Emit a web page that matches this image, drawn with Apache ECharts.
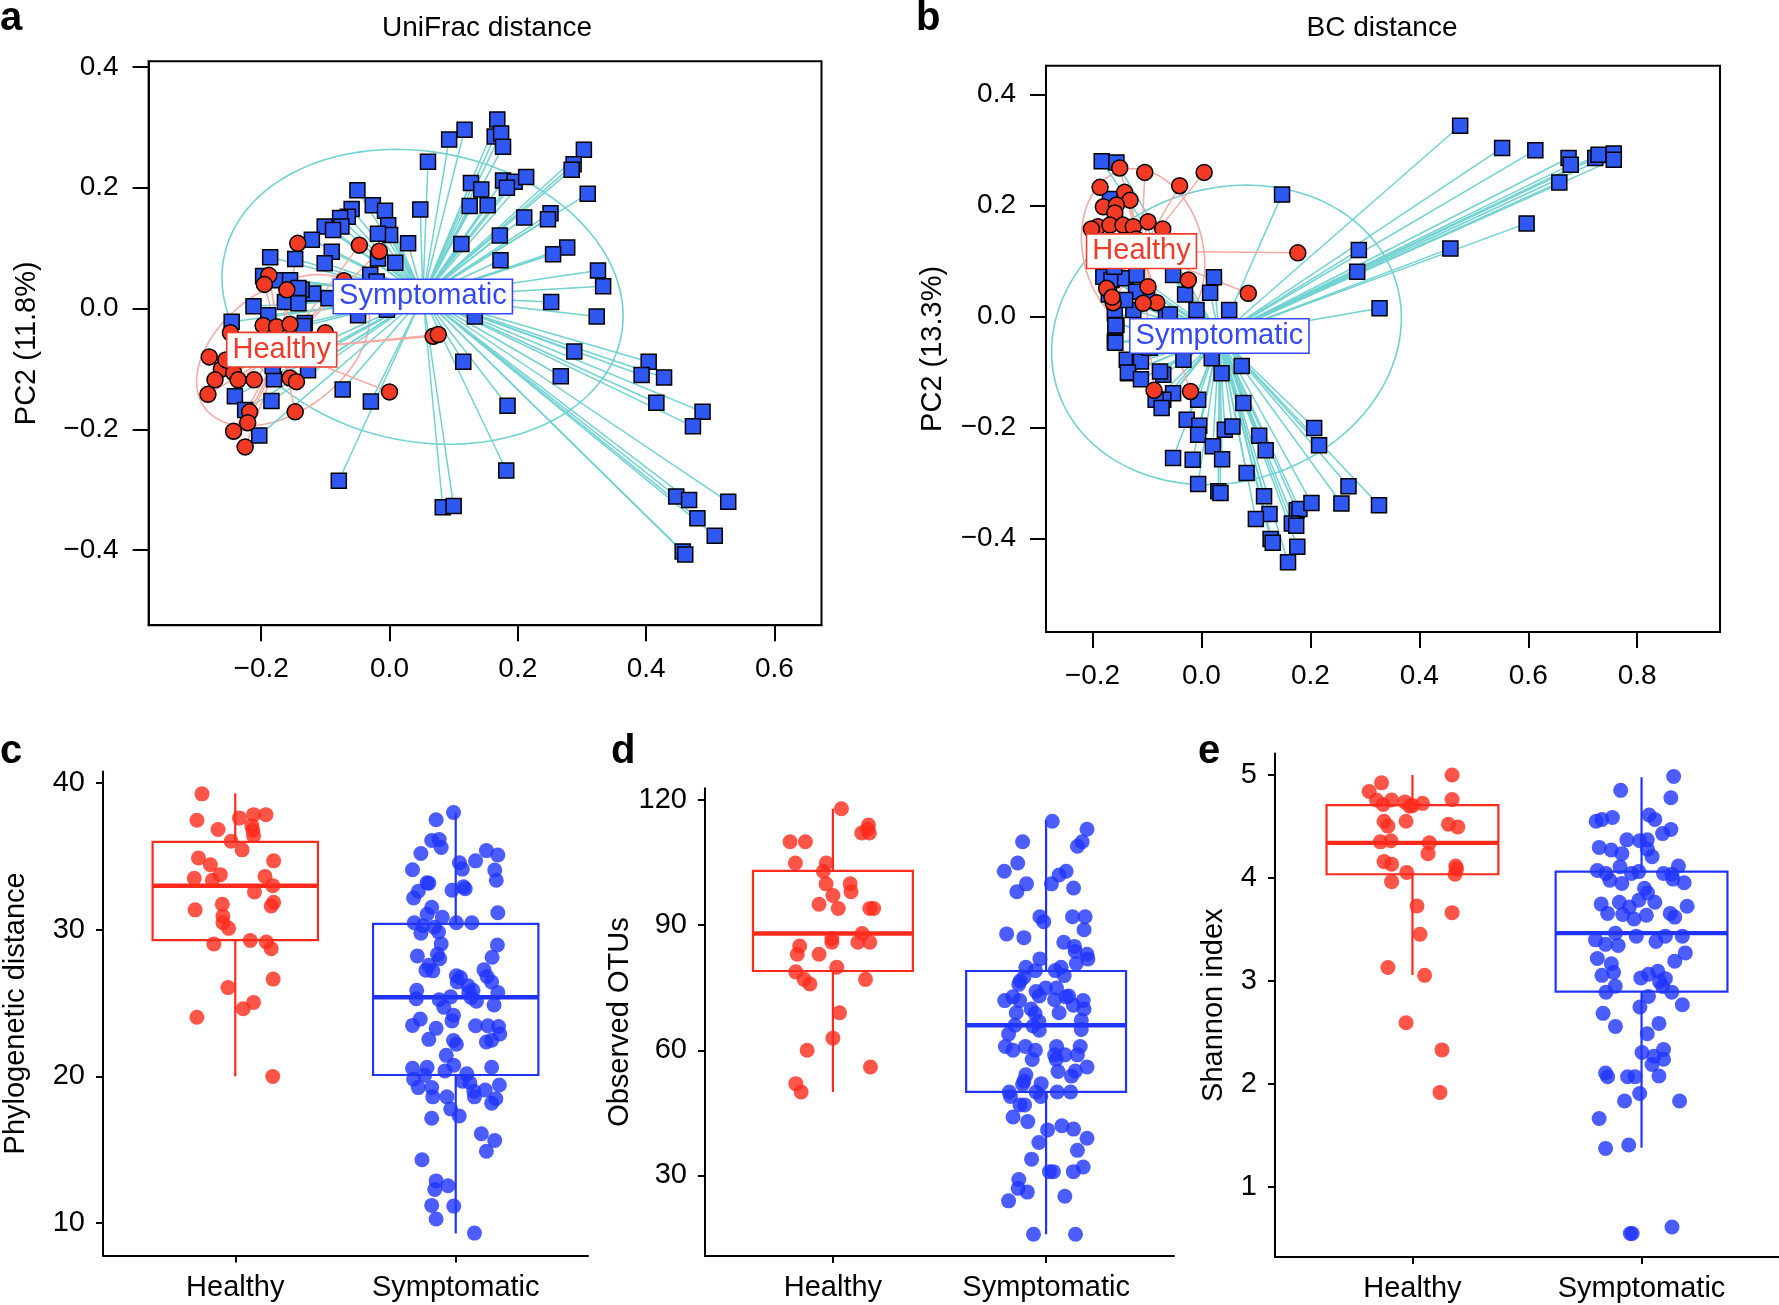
<!DOCTYPE html>
<html>
<head>
<meta charset="utf-8">
<script src="https://cdn.jsdelivr.net/npm/echarts@6/dist/echarts.min.js"></script>
<style>
  html, body { margin: 0; padding: 0; background: #fff; }
  #chart { width: 1779px; height: 1305px; }
</style>
</head>
<body>
<div id="chart"></div>
<script>
// ---- panel a: UniFrac PCoA ----
var healthyA = [
  [-0.143,0.108],[-0.047,0.105],[-0.016,0.095],[-0.188,0.055],[-0.195,0.040],[-0.160,0.031],[-0.071,0.046],
  [-0.248,-0.040],[-0.197,-0.028],[-0.176,-0.030],[-0.155,-0.026],[-0.100,-0.040],[-0.281,-0.080],[-0.262,-0.100],
  [-0.272,-0.118],[-0.243,-0.106],[-0.236,-0.118],[-0.211,-0.118],[-0.283,-0.142],[-0.155,-0.115],[-0.145,-0.121],
  [-0.218,-0.171],[-0.221,-0.189],[-0.147,-0.171],[-0.243,-0.203],[-0.225,-0.229],[0.000,-0.138],[0.068,-0.046],
  [0.076,-0.043],[-0.255,-0.085],[-0.215,-0.060]
];
var symptomaticA = [
  [0.168,0.313],[0.164,0.285],[0.174,0.290],[0.177,0.268],[0.117,0.296],[0.093,0.280],[0.060,0.243],[0.303,0.263],
  [0.287,0.239],[0.284,0.230],[0.309,0.190],[0.127,0.208],[0.143,0.197],[0.177,0.212],[0.195,0.210],[0.213,0.218],
  [0.183,0.200],[0.125,0.170],[0.153,0.171],[0.048,0.164],[0.210,0.151],[0.251,0.158],[0.247,0.148],[0.172,0.121],
  [0.112,0.107],[0.173,0.080],[0.277,0.101],[0.255,0.090],[0.325,0.063],[0.333,0.037],[0.252,0.011],[0.323,-0.013],
  [0.133,-0.013],[0.288,-0.071],[0.267,-0.112],[0.115,-0.088],[0.404,-0.088],[0.393,-0.110],[0.428,-0.114],[0.416,-0.156],
  [0.488,-0.171],[0.473,-0.195],[0.184,-0.161],[0.182,-0.268],[-0.079,-0.285],[0.083,-0.329],[0.100,-0.327],[-0.029,-0.154],
  [-0.073,-0.134],[0.447,-0.311],[0.467,-0.317],[0.528,-0.320],[0.480,-0.347],[0.507,-0.376],[0.457,-0.402],[0.461,-0.407],
  [-0.203,-0.210],
  [-0.050,0.196],[-0.026,0.171],[-0.007,0.162],[-0.059,0.165],[-0.065,0.152],[-0.077,0.150],[-0.101,0.136],[-0.075,0.136],
  [-0.088,0.130],[-0.121,0.114],[-0.002,0.138],[0.001,0.122],[-0.018,0.124],[0.029,0.108],[-0.090,0.094],[-0.101,0.075],
  [-0.018,0.083],[0.009,0.076],[-0.030,0.056],[-0.020,0.045],[-0.119,0.025],[-0.137,0.031],[-0.095,0.017],[-0.049,-0.011],
  [-0.004,-0.002],[-0.132,-0.024],[-0.147,0.082],[-0.186,0.085],[-0.197,0.054],[-0.171,0.047],[-0.155,0.047],[-0.142,0.034],
  [-0.163,0.011],[-0.142,0.009],[-0.212,0.004],[-0.189,-0.011],[-0.134,-0.029],[-0.246,-0.022],[-0.127,-0.102],[-0.180,-0.117],
  [-0.241,-0.145],[-0.184,-0.153],[-0.225,-0.168],[-0.040,0.030],[0.020,0.020],[-0.030,0.005],[-0.182,-0.095]
];
var centroidA = { Healthy: [-0.168,-0.068], Symptomatic: [0.052,0.020] };
// [cx, cy, semi-axis a, semi-axis b, angle deg]
var ellipseA = { Healthy: [-0.166,-0.069,0.155,0.099,40], Symptomatic: [0.0515,0.0195,0.3165,0.239,-13.8] };

// ---- panel b: BC PCoA ----
var healthyB = [
  [-0.150,0.268],[-0.104,0.260],[-0.040,0.236],[0.005,0.260],[-0.186,0.233],[-0.141,0.224],[-0.131,0.210],[-0.180,0.198],
  [-0.156,0.201],[-0.159,0.187],[-0.190,0.162],[-0.202,0.158],[-0.168,0.165],[-0.144,0.165],[-0.125,0.162],[-0.098,0.171],
  [-0.071,0.158],[-0.024,0.066],[0.086,0.042],[-0.174,0.051],[-0.098,0.054],[-0.162,0.025],[-0.082,0.025],[-0.107,0.024],
  [-0.087,-0.133],[-0.020,-0.135],[0.177,0.115],[-0.150,0.130],[-0.120,0.140],[-0.170,0.120],[-0.164,0.035]
];
var symptomaticB = [
  [0.475,0.344],[0.552,0.304],[0.613,0.300],[0.674,0.286],[0.678,0.274],[0.723,0.286],[0.729,0.292],[0.757,0.294],
  [0.757,0.283],[0.657,0.242],[0.597,0.168],[0.457,0.123],[0.289,0.120],[0.286,0.081],[0.327,0.015],[0.148,0.220],
  [-0.183,0.280],[-0.156,0.278],[-0.168,0.212],
  [-0.180,0.072],[-0.165,0.066],[-0.140,0.069],[-0.119,0.075],[-0.052,0.075],[0.023,0.071],[0.016,0.043],[-0.009,0.012],
  [0.051,0.012],[-0.125,0.012],[-0.159,0.006],[-0.156,-0.015],[-0.159,-0.045],[-0.137,-0.078],[-0.113,-0.078],[-0.134,-0.102],
  [-0.065,0.003],[-0.070,-0.105],[-0.052,-0.138],[-0.070,-0.150],[-0.084,-0.150],[-0.073,-0.165],[0.074,-0.089],[0.037,-0.102],
  [0.019,-0.075],[-0.033,-0.078],[-0.076,-0.099],[0.077,-0.156],[-0.006,-0.150],[-0.027,-0.186],[-0.004,-0.197],[-0.006,-0.213],
  [0.043,-0.204],[0.057,-0.198],[0.021,-0.234],[0.038,-0.257],[-0.052,-0.255],[-0.016,-0.258],[0.106,-0.215],[0.118,-0.241],
  [0.083,-0.282],[-0.006,-0.302],[0.031,-0.315],[0.035,-0.318],[0.115,-0.324],[0.125,-0.356],[0.100,-0.365],[0.127,-0.401],
  [0.131,-0.408],[0.175,-0.349],[0.180,-0.347],[0.166,-0.373],[0.174,-0.377],[0.202,-0.336],[0.176,-0.415],[0.159,-0.443],
  [0.207,-0.201],[0.216,-0.232],[0.257,-0.337],[0.270,-0.306],[0.326,-0.340],
  [-0.100,0.030],[-0.120,0.045],[-0.140,0.030],[-0.170,0.040],[-0.160,0.090],[-0.090,-0.040],[-0.050,-0.030],[0.000,-0.050],
  [-0.030,0.040],[-0.058,0.004],[-0.111,-0.081],[-0.135,-0.101],[-0.158,-0.047],[-0.158,-0.016],[-0.095,-0.056],[-0.111,-0.113]
];
var centroidB = { Healthy: [-0.110,0.118], Symptomatic: [0.033,-0.035] };
var ellipseB = { Healthy: [-0.107,0.118,0.151,0.110,105], Symptomatic: [0.046,-0.033,0.3255,0.2646,16.5] };

var pcTicksA = [-0.2, 0.0, 0.2, 0.4, 0.6];
var pcTicksAy = [-0.4, -0.2, 0.0, 0.2, 0.4];
var pcTicksB = [-0.2, 0.0, 0.2, 0.4, 0.6, 0.8];
var pcTicksBy = [-0.4, -0.2, 0.0, 0.2, 0.4];

// ---- panels c-e: [jitter offset, value] ----
var groups = ['Healthy', 'Symptomatic'];
var pdHealthy = [
  [-0.151,39.27],[-0.174,37.47],[-0.078,36.84],[0.019,37.63],[0.083,37.85],[0.139,37.85],[0.075,37.10],[0.080,36.79],
  [0.083,36.41],[-0.019,36.04],[0.031,35.45],[-0.167,34.90],[-0.113,34.44],[0.174,34.70],[-0.186,33.51],[-0.104,33.38],
  [-0.068,33.76],[0.135,33.64],[0.170,33.01],[0.087,32.58],[-0.182,31.36],[-0.059,31.74],[-0.056,30.93],[-0.056,30.48],
  [-0.030,30.10],[0.174,31.87],[0.163,31.62],[-0.097,29.04],[0.068,29.27],[0.141,29.17],[0.163,28.71],[-0.033,26.06],
  [0.172,26.64],[0.036,24.62],[0.083,25.05],[-0.174,24.04],[0.170,20.00]
];
var pdSymptomatic = [
  [-0.010,38.00],[-0.089,37.50],[-0.109,36.09],[-0.075,36.16],[-0.066,35.61],[-0.158,35.20],[0.139,35.40],[0.191,35.10],
  [0.090,34.70],[0.017,34.57],[0.030,34.14],[-0.196,34.09],[0.177,34.07],[0.184,33.38],[-0.130,33.20],[-0.122,33.18],
  [0.035,32.93],[0.043,32.80],[-0.017,32.70],[-0.170,32.63],[-0.191,32.17],[-0.109,31.54],[0.191,31.16],[-0.061,30.86],
  [-0.130,31.06],[-0.188,30.48],[0.003,30.48],[0.073,30.48],[-0.149,30.28],[-0.097,30.18],[-0.158,29.77],[-0.078,29.85],
  [-0.066,29.04],[0.189,28.96],[-0.174,28.21],[-0.083,28.33],[-0.073,28.03],[0.165,28.13],[-0.122,27.58],[-0.104,27.20],
  [-0.135,27.25],[0.128,27.27],[0.142,26.82],[0.003,26.87],[0.021,26.74],[0.007,26.44],[0.163,26.44],[0.056,26.19],
  [0.078,25.88],[-0.177,25.88],[0.191,25.73],[-0.179,25.30],[-0.075,25.23],[-0.023,25.43],[0.094,25.13],[0.174,24.87],
  [-0.054,24.72],[-0.010,24.17],[-0.017,23.79],[-0.161,23.91],[-0.196,23.48],[0.090,23.46],[0.146,23.46],[0.194,23.41],
  [-0.089,23.28],[0.200,22.90],[-0.122,22.53],[0.163,22.47],[0.139,22.35],[-0.010,22.45],[0.003,22.20],[-0.043,21.44],
  [-0.009,20.76],[-0.196,20.56],[-0.130,20.63],[0.163,20.63],[-0.049,20.38],[-0.141,20.08],[0.050,20.18],[-0.191,19.82],
  [0.030,19.67],[0.064,19.57],[0.198,19.42],[-0.170,19.24],[-0.109,19.24],[0.134,19.07],[0.082,18.99],[-0.104,18.61],
  [-0.040,18.61],[0.085,18.61],[0.182,18.48],[0.163,18.18],[-0.023,17.78],[0.016,17.30],[-0.109,17.15],[0.116,16.09],
  [0.177,15.63],[0.139,14.90],[-0.153,14.32],[-0.089,12.88],[-0.095,12.30],[-0.035,12.55],[-0.109,11.21],[-0.009,11.16],
  [-0.089,10.28],[0.085,9.32],[0.059,25.73],[0.069,25.38]
];
// [x, lower whisker, Q1, median, Q3, upper whisker]
var pdBox = [[1, 20.0, 29.3, 33.0, 36.0, 39.3], [2, 9.3, 20.1, 25.4, 30.4, 38.0]];
var pdTicks = [10, 20, 30, 40];

var otuHealthy = [
  [0.040,117.9],[0.167,114.0],[0.162,113.0],[0.135,112.1],[0.171,112.1],[-0.201,110.0],[-0.129,110.0],[-0.176,104.9],
  [-0.031,104.9],[-0.045,102.9],[-0.032,99.9],[0.081,99.9],[0.085,98.0],[0.000,97.1],[-0.065,95.0],[0.025,94.0],
  [0.173,94.0],[0.191,94.0],[0.137,88.0],[-0.005,86.8],[-0.005,85.9],[0.117,85.9],[0.173,85.9],[-0.156,85.0],
  [-0.167,83.0],[-0.065,83.0],[0.018,79.9],[-0.174,78.8],[-0.135,77.0],[-0.108,75.9],[0.153,77.0],[0.031,69.0],
  [0.000,62.9],[-0.121,60.0],[0.176,56.0],[-0.174,52.0],[-0.149,50.0]
];
var otuSymptomatic = [
  [0.029,114.9],[0.192,113.0],[0.169,110.0],[0.147,108.9],[-0.110,110.0],[-0.133,104.9],[-0.196,102.9],[0.094,102.9],
  [0.061,102.0],[-0.092,99.9],[0.025,99.9],[0.129,98.9],[-0.137,98.0],[-0.029,92.0],[-0.011,90.8],[0.124,92.0],
  [0.183,92.0],[0.178,88.9],[-0.185,87.9],[-0.104,87.0],[0.083,85.9],[0.133,84.9],[0.137,83.7],[0.192,83.0],
  [0.196,81.9],[0.142,80.8],[-0.029,81.9],[-0.095,79.9],[-0.050,79.1],[0.043,79.1],[0.070,79.9],[0.085,77.9],
  [-0.122,76.6],[-0.104,77.5],[-0.128,75.8],[-0.002,74.9],[0.049,74.9],[-0.047,74.1],[-0.032,73.0],[0.094,72.8],
  [0.106,73.0],[-0.194,71.9],[-0.155,72.8],[-0.124,71.9],[0.040,72.1],[0.174,71.9],[0.128,70.8],[0.178,69.9],
  [-0.070,69.9],[-0.140,69.0],[0.061,69.0],[-0.052,68.8],[-0.146,66.0],[0.165,67.2],[0.165,65.0],[-0.034,66.9],
  [-0.061,65.8],[-0.176,63.9],[-0.032,64.8],[-0.191,60.9],[-0.155,60.0],[-0.097,60.9],[-0.050,60.0],[0.049,60.9],
  [0.160,60.9],[0.040,58.9],[0.088,58.9],[0.147,58.9],[-0.065,57.8],[0.047,57.8],[0.192,56.0],[0.056,54.9],
  [0.137,55.0],[0.119,53.8],[-0.095,54.1],[-0.104,52.6],[-0.023,52.0],[-0.110,51.8],[-0.173,50.0],[-0.047,50.0],
  [0.052,50.0],[0.115,50.0],[-0.025,48.9],[-0.167,48.9],[-0.122,46.9],[-0.101,46.9],[-0.155,44.0],[-0.086,42.9],
  [0.074,41.9],[0.007,40.9],[0.129,41.1],[0.192,38.9],[-0.034,37.9],[0.147,36.0],[-0.068,33.9],[0.174,32.0],
  [0.128,30.9],[0.016,30.9],[0.034,30.9],[-0.128,29.0],[-0.131,26.9],[-0.088,26.0],[0.088,25.0],[-0.176,23.9],
  [-0.059,15.9],[0.138,15.9]
];
var otuBox = [[1, 50.0, 79.0, 88.0, 103.0, 117.9], [2, 15.9, 50.0, 66.0, 79.0, 115.1]];
var otuTicks = [30, 60, 90, 120];

var shHealthy = [
  [0.173,5.000],[-0.135,4.924],[-0.189,4.840],[-0.157,4.757],[-0.091,4.757],[-0.128,4.714],[-0.033,4.739],[0.000,4.703],
  [0.044,4.725],[-0.012,4.696],[0.173,4.761],[-0.124,4.551],[-0.107,4.504],[-0.028,4.551],[0.157,4.522],[0.198,4.496],
  [-0.140,4.351],[-0.094,4.362],[0.074,4.341],[0.068,4.236],[-0.124,4.159],[-0.091,4.134],[0.189,4.116],[0.186,4.036],
  [0.193,4.087],[-0.025,4.054],[-0.091,3.964],[0.020,3.728],[0.173,3.663],[0.033,3.453],[-0.107,3.130],[0.053,3.054],
  [-0.028,2.594],[0.129,2.330],[0.120,1.917]
];
var shSymptomatic = [
  [0.140,4.986],[-0.091,4.851],[0.128,4.779],[0.033,4.612],[0.058,4.569],[-0.198,4.551],[-0.173,4.569],[-0.127,4.587],
  [0.128,4.471],[0.092,4.431],[-0.064,4.370],[-0.008,4.362],[0.025,4.370],[-0.185,4.297],[-0.132,4.272],[-0.086,4.236],
  [0.026,4.279],[0.046,4.207],[-0.193,4.072],[-0.155,4.043],[-0.138,3.978],[-0.094,4.109],[-0.086,3.946],[-0.044,4.043],
  [-0.012,4.062],[0.096,4.043],[0.132,4.036],[0.161,4.116],[0.137,3.989],[0.186,3.953],[0.013,3.899],[0.026,3.855],
  [-0.176,3.746],[-0.097,3.764],[-0.012,3.783],[0.058,3.764],[-0.053,3.717],[0.199,3.725],[-0.148,3.656],[-0.082,3.645],
  [-0.033,3.601],[0.021,3.638],[0.125,3.656],[0.145,3.620],[-0.114,3.464],[-0.023,3.435],[0.104,3.435],[0.178,3.435],
  [-0.201,3.399],[-0.157,3.355],[-0.102,3.344],[0.063,3.384],[-0.193,3.217],[-0.132,3.167],[0.145,3.192],[0.191,3.272],
  [-0.173,3.054],[-0.122,3.083],[-0.003,3.029],[0.030,3.065],[0.071,3.094],[0.104,3.022],[0.079,2.993],[0.092,2.946],
  [-0.115,2.949],[-0.155,2.891],[0.132,2.891],[0.030,2.848],[-0.007,2.746],[0.178,2.768],[-0.168,2.685],[-0.114,2.558],
  [0.076,2.587],[0.025,2.486],[0.002,2.304],[0.096,2.333],[0.054,2.268],[0.096,2.239],[0.046,2.188],[-0.157,2.105],
  [-0.148,2.069],[-0.061,2.069],[-0.028,2.069],[0.076,2.076],[-0.008,1.906],[-0.074,1.833],[0.166,1.833],[-0.185,1.663],
  [-0.157,1.373],[-0.056,1.406],[-0.049,0.547],[-0.041,0.547],[0.133,0.609]
];
var shBox = [[1, 3.058, 4.036, 4.341, 4.707, 5.0], [2, 1.38, 2.895, 3.464, 4.062, 4.978]];
var shTicks = [1, 2, 3, 4, 5];

// ---- style ----
var FONT = 'Liberation Sans, Arial, Helvetica, sans-serif';
var RED_PT = '#f23a24', BLUE_PT = '#2f58f2';
var RED_LBL = '#f03a2a', BLUE_LBL = '#3448f5';
var CYAN = '#72d2d2', PINK = '#f6aaa4';
var RED_BOX = '#ff2a1c', BLUE_BOX = '#1f35ff';

function fmtPc(v) {
  var r = Math.round(v * 10) / 10;
  return (r < 0 ? '\u2212' : '') + Math.abs(r).toFixed(1);
}

function pcAxis(gi, min, max, ticks, isY) {
  return {
    gridIndex: gi, type: 'value', min: min, max: max,
    axisLine: { show: true, onZero: false, lineStyle: { color: '#000', width: 2 } },
    axisTick: { show: true, inside: false, length: 16, customValues: ticks, lineStyle: { color: '#000', width: 2 } },
    axisLabel: { customValues: ticks, formatter: fmtPc, fontSize: 28, color: '#000', fontFamily: FONT, margin: isY ? 30 : 30 },
    splitLine: { show: false }
  };
}

function boxAxisY(gi, min, max, ticks, name, gap) {
  return {
    gridIndex: gi, type: 'value', min: min, max: max,
    name: name, nameLocation: 'middle', nameGap: gap,
    nameTextStyle: { fontSize: 29, color: '#000', fontFamily: FONT },
    axisLine: { show: true, onZero: false, lineStyle: { color: '#000', width: 2 } },
    axisTick: { show: true, inside: false, length: 7, customValues: ticks, lineStyle: { color: '#000', width: 2 } },
    axisLabel: { customValues: ticks, fontSize: 29, color: '#000', fontFamily: FONT, margin: 18 },
    splitLine: { show: false }
  };
}

function boxAxisX(gi) {
  return {
    gridIndex: gi, type: 'value', min: 0.4, max: 2.6,
    axisLine: { show: true, onZero: false, lineStyle: { color: '#000', width: 2 } },
    axisTick: { show: true, inside: false, length: 7, customValues: [1, 2], lineStyle: { color: '#000', width: 2 } },
    axisLabel: {
      customValues: [1, 2], fontSize: 29, color: '#000', fontFamily: FONT, margin: 18,
      formatter: function (v) { return groups[Math.round(v) - 1]; }
    },
    splitLine: { show: false }
  };
}

function ellipseSeries(gi, e, color) {
  return {
    type: 'custom', xAxisIndex: gi, yAxisIndex: gi, z: 2, silent: true,
    data: [e], encode: { x: 0, y: 1 },
    renderItem: function (params, api) {
      var cx = api.value(0), cy = api.value(1), a = api.value(2), b = api.value(3);
      var th = api.value(4) * Math.PI / 180;
      var pts = [];
      for (var i = 0; i <= 180; i++) {
        var t = 2 * Math.PI * i / 180;
        var dx = a * Math.cos(t), dy = b * Math.sin(t);
        pts.push(api.coord([cx + dx * Math.cos(th) - dy * Math.sin(th), cy + dx * Math.sin(th) + dy * Math.cos(th)]));
      }
      return { type: 'polyline', shape: { points: pts }, style: { fill: null, stroke: color, lineWidth: 1.6 } };
    }
  };
}

function spiderSeries(gi, pts, c, color) {
  return {
    type: 'lines', coordinateSystem: 'cartesian2d', xAxisIndex: gi, yAxisIndex: gi, z: 2, silent: true,
    lineStyle: { color: color, width: 1.5, opacity: 1 },
    data: pts.map(function (p) { return { coords: [p, c] }; })
  };
}

function pointSeries(gi, pts, shape, color, size) {
  return {
    type: 'scatter', xAxisIndex: gi, yAxisIndex: gi, z: 3, silent: true,
    symbol: shape, symbolSize: size, data: pts,
    itemStyle: { color: color, borderColor: '#000', borderWidth: 1.5, opacity: 1 }
  };
}

// group name drawn in a white box at the group centroid
function labelSeries(gi, c, name, color) {
  return {
    type: 'custom', xAxisIndex: gi, yAxisIndex: gi, z: 8, silent: true,
    data: [[c[0], c[1]]], encode: { x: 0, y: 1 },
    renderItem: function (params, api) {
      var p = api.coord([api.value(0), api.value(1)]);
      return {
        type: 'text', x: p[0], y: p[1], z2: 100,
        style: {
          text: name, fill: color, fontSize: 29, fontFamily: FONT,
          align: 'center', verticalAlign: 'middle',
          backgroundColor: '#fff', borderColor: color, borderWidth: 1.6,
          padding: [3, 5, 1, 5]
        }
      };
    }
  };
}

function boxSeries(gi, box, color) {
  return {
    type: 'custom', xAxisIndex: gi, yAxisIndex: gi, z: 2, silent: true,
    data: [box], encode: { x: 0, y: [1, 2, 3, 4, 5] },
    renderItem: function (params, api) {
      var x = api.value(0), hw = 0.375;
      var lo = api.coord([x, api.value(1)]), q1 = api.coord([x, api.value(2)]);
      var md = api.coord([x, api.value(3)]), q3 = api.coord([x, api.value(4)]);
      var hi = api.coord([x, api.value(5)]);
      var l = api.coord([x - hw, 0])[0], r = api.coord([x + hw, 0])[0];
      var st = { stroke: color, lineWidth: 2.2 };
      return {
        type: 'group', children: [
          { type: 'line', shape: { x1: lo[0], y1: lo[1], x2: q1[0], y2: q1[1] }, style: st },
          { type: 'line', shape: { x1: q3[0], y1: q3[1], x2: hi[0], y2: hi[1] }, style: st },
          { type: 'rect', shape: { x: l, y: q3[1], width: r - l, height: q1[1] - q3[1] }, style: { fill: null, stroke: color, lineWidth: 2.2 } },
          { type: 'line', shape: { x1: l, y1: md[1], x2: r, y2: md[1] }, style: { stroke: color, lineWidth: 4.4 } }
        ]
      };
    }
  };
}

function jitterSeries(gi, pts, center, color) {
  return {
    type: 'scatter', xAxisIndex: gi, yAxisIndex: gi, z: 3, silent: true,
    symbolSize: 15,
    data: pts.map(function (p) { return [center + p[0], p[1]]; }),
    itemStyle: { color: color, opacity: 0.8 }
  };
}

var dom = document.getElementById('chart');
var myChart = echarts.init(dom, null, { renderer: 'canvas' });

var letterStyle = { fontSize: 40, fontWeight: 'bold', color: '#000', fontFamily: FONT };
var titleStyle = { fontSize: 28, fontWeight: 'normal', color: '#000', fontFamily: FONT };

var option = {
  animation: false,
  backgroundColor: '#fff',
  title: [
    { text: 'a', left: 0, top: -1, padding: 0, textStyle: letterStyle },
    { text: 'b', left: 916, top: -1, padding: 0, textStyle: letterStyle },
    { text: 'c', left: 0, top: 732, padding: 0, textStyle: letterStyle },
    { text: 'd', left: 611, top: 732, padding: 0, textStyle: letterStyle },
    { text: 'e', left: 1198, top: 732, padding: 0, textStyle: letterStyle },
    { text: 'UniFrac distance', left: 487, top: 14.5, textAlign: 'center', padding: 0, textStyle: titleStyle },
    { text: 'BC distance', left: 1382, top: 14.5, textAlign: 'center', padding: 0, textStyle: titleStyle }
  ],
  grid: [
    { left: 148.6, top: 61.3, width: 672.9, height: 563.9, show: true, borderColor: '#000', borderWidth: 2, containLabel: false },
    { left: 1046, top: 65.8, width: 674, height: 566.2, show: true, borderColor: '#000', borderWidth: 2, containLabel: false },
    { left: 101, top: 771.4, width: 487, height: 484 },
    { left: 705, top: 788.3, width: 469, height: 467.6 },
    { left: 1275, top: 753.4, width: 504, height: 503.5 }
  ],
  xAxis: [
    pcAxis(0, -0.3755, 0.6734, pcTicksA, false),
    pcAxis(1, -0.2853, 0.952, pcTicksB, false),
    boxAxisX(2), boxAxisX(3), boxAxisX(4)
  ],
  yAxis: [
    Object.assign(pcAxis(0, -0.5242, 0.4094, pcTicksAy, true), {
      name: 'PC2 (11.8%)', nameLocation: 'middle', nameGap: 107,
      nameTextStyle: { fontSize: 29, color: '#000', fontFamily: FONT }
    }),
    Object.assign(pcAxis(1, -0.5687, 0.4522, pcTicksBy, true), {
      name: 'PC2 (13.3%)', nameLocation: 'middle', nameGap: 99,
      nameTextStyle: { fontSize: 29, color: '#000', fontFamily: FONT }
    }),
    boxAxisY(2, 7.8, 40.8, pdTicks, 'Phylogenetic distance', 73),
    boxAxisY(3, 10.7, 122.8, otuTicks, 'Observed OTUs', 58),
    boxAxisY(4, 0.319, 5.21, shTicks, 'Shannon index', 47)
  ],
  series: [
    // a
    ellipseSeries(0, ellipseA.Symptomatic, CYAN),
    ellipseSeries(0, ellipseA.Healthy, PINK),
    spiderSeries(0, symptomaticA, centroidA.Symptomatic, CYAN),
    spiderSeries(0, healthyA, centroidA.Healthy, PINK),
    pointSeries(0, symptomaticA, 'rect', BLUE_PT, 15),
    pointSeries(0, healthyA, 'circle', RED_PT, 16),
    labelSeries(0, centroidA.Symptomatic, 'Symptomatic', BLUE_LBL),
    labelSeries(0, centroidA.Healthy, 'Healthy', RED_LBL),
    // b
    ellipseSeries(1, ellipseB.Symptomatic, CYAN),
    ellipseSeries(1, ellipseB.Healthy, PINK),
    spiderSeries(1, symptomaticB, centroidB.Symptomatic, CYAN),
    spiderSeries(1, healthyB, centroidB.Healthy, PINK),
    pointSeries(1, symptomaticB, 'rect', BLUE_PT, 15),
    pointSeries(1, healthyB, 'circle', RED_PT, 16),
    labelSeries(1, centroidB.Symptomatic, 'Symptomatic', BLUE_LBL),
    labelSeries(1, centroidB.Healthy, 'Healthy', RED_LBL),
    // c
    boxSeries(2, pdBox[0], RED_BOX),
    boxSeries(2, pdBox[1], BLUE_BOX),
    jitterSeries(2, pdHealthy, 1, RED_BOX),
    jitterSeries(2, pdSymptomatic, 2, BLUE_BOX),
    // d
    boxSeries(3, otuBox[0], RED_BOX),
    boxSeries(3, otuBox[1], BLUE_BOX),
    jitterSeries(3, otuHealthy, 1, RED_BOX),
    jitterSeries(3, otuSymptomatic, 2, BLUE_BOX),
    // e
    boxSeries(4, shBox[0], RED_BOX),
    boxSeries(4, shBox[1], BLUE_BOX),
    jitterSeries(4, shHealthy, 1, RED_BOX),
    jitterSeries(4, shSymptomatic, 2, BLUE_BOX)
  ]
};

if (option && typeof option === "object") {
  myChart.setOption(option, true);
}
</script>
</body>
</html>
